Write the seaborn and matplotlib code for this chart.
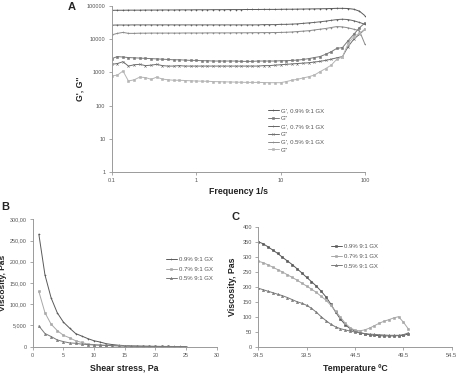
import numpy as np
import pandas as pd
import matplotlib
matplotlib.use("Agg")
import matplotlib.pyplot as plt
from matplotlib.ticker import FixedLocator, FixedFormatter, NullLocator
import seaborn as sns

sns.set_style("ticks")
plt.rcParams['font.family'] = ['Liberation Sans', 'DejaVu Sans']

# ---------------- Panel A data ----------------
freq = [0.1, 0.117, 0.136, 0.158, 0.185, 0.215, 0.251, 0.293, 0.341, 0.398, 0.464, 0.541,
        0.631, 0.736, 0.858, 1.0, 1.17, 1.36, 1.58, 1.85, 2.15, 2.51, 2.93, 3.41, 3.98,
        4.64, 5.41, 6.31, 7.36, 8.58, 10, 11.7, 13.6, 15.8, 18.5, 21.5, 25.1, 29.3, 34.1,
        39.8, 46.4, 54.1, 63.1, 73.6, 85.8, 100]
gp_09 = [74000, 74500, 74500, 75000, 75000, 75000, 75500, 75500, 75500, 76000, 76000, 76000,
         76500, 76500, 76500, 77000, 77000, 77000, 77500, 77500, 77500, 78000, 78000, 78000, 78500,
         78500, 78500, 79000, 79000, 79000, 79500, 80000, 80000, 80500, 81000, 81500, 82000, 82500, 83000,
         84000, 85000, 85000, 84000, 80000, 70000, 51000]
gpp_09 = [2600, 3000, 2900, 2800, 2750, 2700, 2650, 2600, 2550, 2500, 2450, 2400,
          2400, 2350, 2300, 2300, 2250, 2250, 2200, 2200, 2200, 2200, 2200, 2150, 2150,
          2150, 2200, 2200, 2200, 2200, 2250, 2250, 2300, 2350, 2450, 2600, 2800, 3000, 3500,
          4200, 5300, 5600, 9000, 14000, 22000, 31000]
gp_07 = [26500, 26800, 26800, 26800, 27000, 27000, 27000, 27000, 27000, 27000, 27000, 27000,
         27000, 27000, 27000, 27000, 27000, 27000, 27000, 27000, 27000, 27000, 27000, 27000, 27000,
         27000, 27000, 27500, 27500, 27500, 28000, 28000, 28500, 29000, 30000, 31000, 32000, 33500, 35000,
         37000, 39000, 40000, 39000, 36000, 32000, 28000]
gpp_07 = [1750, 1850, 2100, 1550, 1700, 1750, 1600, 1650, 1750, 1600, 1550, 1550,
          1600, 1550, 1550, 1550, 1550, 1550, 1550, 1550, 1550, 1550, 1550, 1550, 1550,
          1550, 1550, 1600, 1600, 1650, 1700, 1750, 1800, 1850, 1900, 1950, 2050, 2150, 2300,
          2500, 2750, 3000, 6000, 10000, 14000, 20000]
gp_05 = [13500, 15000, 16000, 15000, 15000, 15200, 15200, 15300, 15300, 15300, 15300, 15300,
         15300, 15400, 15400, 15400, 15400, 15500, 15500, 15500, 15500, 15500, 15600, 15600, 15600,
         15700, 15700, 15800, 15800, 15900, 16000, 16200, 16500, 17000, 17500, 18000, 19000, 20000, 21000,
         22500, 24000, 23500, 22000, 20000, 18000, 7000]
gpp_05 = [780, 830, 1100, 550, 600, 720, 700, 620, 720, 630, 600, 580,
          580, 570, 560, 550, 545, 540, 530, 525, 520, 515, 510, 505, 500,
          500, 500, 495, 490, 490, 490, 530, 580, 620, 680, 740, 830, 1050, 1300,
          1650, 2500, 2900, 7500, 12000, 15000, 20000]

a_labels = ["G', 0.9% 9:1 GX", 'G"', "G', 0.7% 9:1 GX", 'G"', "G', 0.5% 9:1 GX", 'G"']

# ---------------- Panel B data ----------------
stress = list(range(1, 26))
b_09 = [265, 169, 115, 80, 58, 44, 31, 25, 19, 14, 11, 7, 5, 3.5, 2.5, 2, 1.5, 1.2, 1, 0.8, 0.7, 0.6, 0.5, 0.5, 0.4]
b_07 = [130, 80, 53, 38, 27, 21, 14, 10, 6, 5, 4, 3, 2.5, 2, 1.5, 1.2, 1, 0.8, 0.7, 0.6, 0.5, 0.5, 0.4, 0.4, 0.3]
b_05 = [49, 31, 24, 16, 12, 9, 8, 6, 5, 4, 3.5, 3, 2.5, 2, 1.5, 1.2, 1, 0.8, 0.7, 0.6, 0.5, 0.5, 0.4, 0.4, 0.3]
b_yticks = [0, 50, 100, 150, 200, 250, 300]
b_yticklabels = ["0", "5,000", "100,00", "150,00", "200,00", "250,00", "300,00"]

# ---------------- Panel C data ----------------
temp = [34.5, 35.0, 35.5, 36.0, 36.5, 37.0, 37.5, 38.0, 38.5, 39.0, 39.5, 40.0, 40.5, 41.0, 41.5, 42.0,
        42.5, 43.0, 43.5, 44.0, 44.5, 45.0, 45.5, 46.0, 46.5, 47.0, 47.5, 48.0, 48.5, 49.0, 49.5, 50.0]
c_09 = [350, 343, 333, 322, 311, 298, 286, 274, 260, 246, 231, 217, 202, 185, 166, 142,
        115, 92, 73, 60, 52, 47, 43, 40, 38, 37, 36, 36, 36, 37, 38, 42]
c_07 = [285, 280, 273, 265, 257, 249, 240, 231, 222, 212, 202, 192, 181, 168, 155, 138,
        118, 98, 78, 63, 55, 53, 56, 62, 70, 78, 85, 90, 96, 100, 82, 60]
c_05 = [195, 190, 185, 180, 175, 170, 164, 157, 150, 145, 138, 128, 115, 100, 87, 75,
        66, 60, 56, 52, 49, 46, 44, 42, 41, 40, 39, 38, 38, 38, 40, 46]
bc_labels = ["0.9% 9:1 GX", "0.7% 9:1 GX", "0.5% 9:1 GX"]

W, H = 467, 376
fig = plt.figure(figsize=(W / 100, H / 100), dpi=100)

def fx(px):
    return px / W

def fy(py):
    return 1 - py / H

axA = fig.add_axes([fx(111.7), fy(172), fx(365) - fx(111.7), fy(6) - fy(172)])
axB = fig.add_axes([fx(32.7), fy(346.7), fx(216.7) - fx(32.7), fy(219.3) - fy(346.7)])
axC = fig.add_axes([fx(258.3), fy(346.7), fx(451.7) - fx(258.3), fy(226.7) - fy(346.7)])

tick_col = "#555555"
lab_kw = dict(fontsize=6.3, fontweight="bold", color="#222222")
LEG_FS = 4.3

def style(ax, fs=4.1):
    for s in ["top", "right"]:
        ax.spines[s].set_visible(False)
    for s in ["left", "bottom"]:
        ax.spines[s].set_color("#9a9a9a")
        ax.spines[s].set_linewidth(0.7)
    ax.tick_params(axis="both", labelsize=fs, colors="#9a9a9a", labelcolor=tick_col,
                   length=2.5, width=0.6, pad=2)

def legend(ax, px, py, spacing):
    ax.legend(loc="upper left", bbox_to_anchor=(fx(px), fy(py)), bbox_transform=fig.transFigure,
              frameon=False, fontsize=LEG_FS, handlelength=1.8, labelspacing=spacing,
              handletextpad=0.4, labelcolor=tick_col, borderaxespad=0, borderpad=0)

def draw(ax, xs, vals, lab, col, mk, **kw):
    df = pd.DataFrame({"x": xs, "v": vals})
    sns.lineplot(data=df, x="x", y="v", ax=ax, color=col, lw=0.7, marker=mk, markersize=1.6,
                 markeredgewidth=0.4, markeredgecolor=col, markerfacecolor=col, label=lab, **kw)

# ---- A ----
a_series = [gp_09, gpp_09, gp_07, gpp_07, gp_05, gpp_05]
a_colors = ["#5a5a5a", "#7a7a7a", "#666666", "#6e6e6e", "#8a8a8a", "#b5b5b5"]
a_markers = ["+", "s", "+", "x", "+", "s"]
for vals, lab, col, mk in zip(a_series, a_labels, a_colors, a_markers):
    draw(axA, freq, vals, lab, col, mk)
axA.set_xscale("log")
axA.set_yscale("log")
axA.set_xlim(0.1, 100)
axA.set_ylim(1, 100000)
axA.xaxis.set_major_locator(FixedLocator([0.1, 1, 10, 100]))
axA.xaxis.set_major_formatter(FixedFormatter(["0.1", "1", "10", "100"]))
axA.xaxis.set_minor_locator(NullLocator())
axA.yaxis.set_major_locator(FixedLocator([1, 10, 100, 1000, 10000, 100000]))
axA.yaxis.set_major_formatter(FixedFormatter(["1", "10", "100", "1000", "10000", "100000"]))
axA.yaxis.set_minor_locator(NullLocator())
style(axA)
axA.set_xlabel("Frequency 1/s", labelpad=3, **lab_kw)
axA.set_ylabel("G', G''", **lab_kw)
axA.yaxis.set_label_coords((84 - 111.7) / 253.3, 0.5)
legend(axA, 268, 108, 0.45)

# ---- B ----
b_colors = ["#5a5a5a", "#a8a8a8", "#7a7a7a"]
b_markers = ["+", "s", "^"]
for vals, lab, col, mk in zip([b_09, b_07, b_05], bc_labels, b_colors, b_markers):
    draw(axB, stress, vals, lab, col, mk)
axB.set_xlim(0, 30)
axB.set_ylim(0, 300)
axB.xaxis.set_major_locator(FixedLocator([0, 5, 10, 15, 20, 25, 30]))
axB.yaxis.set_major_locator(FixedLocator(b_yticks))
axB.yaxis.set_major_formatter(FixedFormatter(b_yticklabels))
style(axB, fs=3.9)
axB.set_xlabel("Shear stress, Pa", labelpad=4, **lab_kw)
axB.set_ylabel("Viscosity, Pas", fontsize=6.0, fontweight="bold", color="#222222")
axB.yaxis.set_label_coords((7.0 - 32.7) / 184.0, 0.5)
legend(axB, 166, 257, 0.75)

# ---- C ----
c_colors = ["#5a5a5a", "#a8a8a8", "#7a7a7a"]
c_markers = ["s", "s", "^"]
for vals, lab, col, mk in zip([c_09, c_07, c_05], bc_labels, c_colors, c_markers):
    draw(axC, temp, vals, lab, col, mk, sort=False)
axC.set_xlim(34.5, 54.5)
axC.set_ylim(0, 400)
axC.xaxis.set_major_locator(FixedLocator([34.5, 39.5, 44.5, 49.5, 54.5]))
axC.xaxis.set_major_formatter(FixedFormatter(["34.5", "39.5", "44.5", "49.5", "54.5"]))
axC.yaxis.set_major_locator(FixedLocator([0, 50, 100, 150, 200, 250, 300, 350, 400]))
style(axC)
axC.set_xlabel("Temperature ºC", labelpad=4, **lab_kw)
axC.set_ylabel("Viscosity, Pas", **lab_kw)
axC.yaxis.set_label_coords((237 - 258.3) / 193.4, 0.5)
legend(axC, 331, 244, 0.75)

# panel letters
fig.text(fx(68), fy(7), "A", fontsize=8, fontweight="bold", va="center", ha="left")
fig.text(fx(1), fy(207), "B", fontsize=8, fontweight="bold", va="center", ha="left")
fig.text(fx(231), fy(217), "C", fontsize=8, fontweight="bold", va="center", ha="left")

fig.savefig("out.png", dpi=100)
